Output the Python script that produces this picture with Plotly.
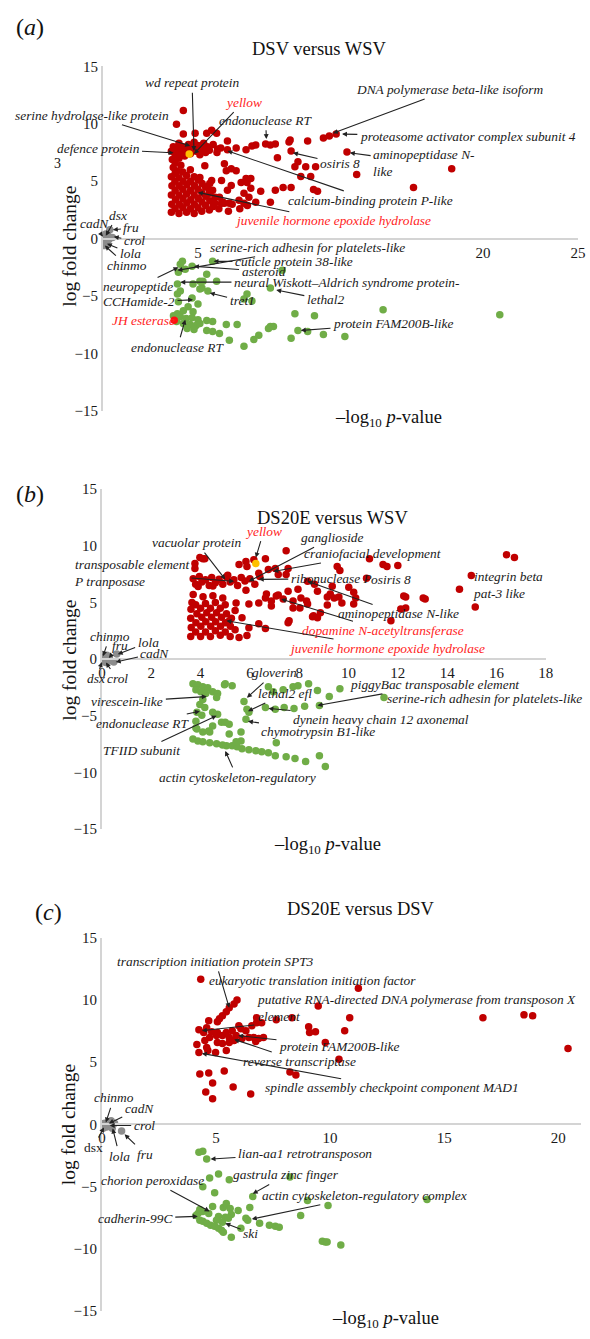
import plotly.graph_objects as go

# ---------------- data (x = -log10 p-value, y = log fold change) ----------------
a_red = [(4.23,11.16),(3.87,9.96),(4.23,9.10),(4.85,9.18),(5.46,9.18),(5.98,9.18),(5.72,9.44),(6.55,8.50),(6.55,7.73),(6.03,7.81),(7.01,7.90),(7.53,7.73),(7.84,8.07),(8.04,8.15),(8.56,8.24),(8.81,8.15),(9.07,8.24),(9.79,8.41),(9.85,8.58),(9.90,7.64),(10.77,8.50),(11.60,8.76),(11.91,8.93),(12.27,9.10),(12.84,7.55),(9.18,7.04),(10.26,6.70),(10.10,6.27),(10.67,6.27),(11.19,6.27),(10.41,5.41),(10.93,5.41),(13.35,5.58),(18.35,6.09),(16.34,4.46),(9.07,4.21),(9.48,4.46),(9.90,4.46),(11.08,4.29),(11.29,4.12),(8.81,3.18),(6.49,5.92),(7.01,5.92),(7.53,5.24),(7.78,5.24),(8.04,3.18),(8.30,4.12),(7.42,3.95),(6.75,4.64),(7.16,3.35),(6.39,3.09),(5.88,3.09),(6.24,5.06),(6.55,4.21),(5.72,5.06),(5.62,3.95),(5.36,6.35),(5.10,5.32),(6.39,6.52),(6.75,6.09),(7.27,4.89),(7.58,4.89),(7.78,4.38),(7.68,3.60),(7.42,3.09),(6.65,3.09),(6.24,3.09),(6.13,3.60),(5.77,4.21),(5.62,4.81),
 (3.6,7.6),(3.7,8.0),(3.8,7.3),(3.9,7.8),(4.0,8.3),(4.1,7.5),(4.2,8.0),(4.3,7.2),(4.4,7.7),(4.5,8.2),(4.6,7.4),(4.7,7.9),(4.8,8.4),(4.9,7.6),(5.0,8.1),(5.1,7.3),(5.2,7.8),(5.3,8.3),(5.4,7.5),(5.5,8.0),(5.6,7.7),(5.8,8.2),(6.0,7.5),(6.2,7.9),(3.65,6.9),(3.8,6.6),(4.0,7.0),(3.7,6.2),(3.9,5.9),(4.1,6.4),
 (3.6,2.3),(3.62,3.0),(3.6,3.8),(3.63,4.6),(3.6,5.4),(3.8,2.6),(3.82,3.4),(3.8,4.2),(3.79,5.0),(3.8,5.7),(4.0,2.2),(4.02,3.0),(4.0,3.8),(4.01,4.6),(4.0,5.3),(4.2,2.7),(4.21,3.5),(4.2,4.3),(4.22,5.0),(4.2,5.8),(4.4,2.3),(4.41,3.1),(4.4,3.9),(4.42,4.7),(4.4,5.5),(4.6,2.6),(4.62,3.4),(4.6,4.2),(4.61,5.0),(4.6,6.0),(4.8,2.2),(4.81,3.0),(4.8,3.8),(4.82,4.6),(4.8,5.4),(5.0,2.7),(5.02,3.5),(5.0,4.3),(5.01,5.1),(5.2,2.4),(5.21,3.2),(5.2,4.0),(5.22,4.8),(5.4,2.9),(5.41,3.7),(5.4,4.5),(5.6,2.5),(5.62,3.3),(5.6,4.2),(5.8,2.8),(5.9,3.6),(6.1,2.6),(6.3,3.2),(6.6,2.4),(6.8,3.0),(7.2,2.6),(7.6,2.9)]
a_green = [(5.77,-1.97),(4.07,-2.23),(4.33,-2.66),(4.69,-2.40),(3.97,-2.92),(5.46,-3.09),(5.10,-3.69),(3.92,-3.95),(4.07,-4.55),(4.74,-3.95),(5.10,-4.38),(5.52,-4.55),(4.69,-5.15),(5.00,-5.67),(3.97,-5.49),(3.92,-4.81),(4.48,-5.92),(4.74,-6.35),(4.23,-6.27),(3.92,-6.52),(3.71,-6.70),(4.07,-6.78),(4.38,-6.95),(4.69,-6.87),(5.0,-7.04),(3.87,-7.21),(4.23,-7.38),(4.59,-7.47),(4.90,-7.55),(4.43,-7.81),(4.79,-7.90),(5.10,-7.38),(5.46,-7.12),(5.77,-7.21),(5.46,-7.98),(5.77,-8.07),(6.13,-8.24),(6.49,-7.47),(7.06,-7.47),(6.65,-8.84),(7.42,-9.36),(7.94,-8.76),(8.20,-8.41),(7.58,-4.81),(7.84,-5.41),(8.81,-7.64),(8.97,-7.64),(9.90,-8.67),(10.10,-6.52),(5.98,-3.69),(4.18,-1.97),(5.26,-3.69),(5.21,-4.29),(8.81,-4.29),(7.42,-5.24),(11.13,-6.70),(14.74,-6.18),(10.26,-7.98),(10.77,-8.07),(8.71,-7.81),(9.43,-2.75),(11.60,-8.33),(12.73,-8.50),(20.88,-6.61)]
a_gray = [(0.1,0.1),(0.2,-0.3),(0.36,0.77),(0.1,-0.6),(0.25,0.3),(0.05,-0.2),(0.15,0.4),(0.3,-0.1),(0.5,0.1)]
a_yellow = [(4.54,7.38)]
a_jh = [(3.75,-7.1)]

b_red = [(4.09,8.87),(3.77,8.43),(3.77,8.0),(3.97,8.96),(4.17,8.87),(5.56,8.35),(5.84,8.61),(5.88,8.17),(6.16,8.78),(6.63,8.87),(7.47,9.57),(7.03,8.0),(6.36,7.57),(6.75,7.91),(7.15,7.48),(7.47,7.48),(7.55,8.0),(9.54,8.17),(9.65,7.83),(10.85,8.87),(11.40,8.35),(11.56,8.17),(12.0,8.26),(10.73,7.13),(16.41,9.22),(16.73,8.96),(14.98,7.39),(14.50,6.17),(15.14,4.61),(13.11,5.30),(12.32,5.48),(12.12,4.43),(11.72,3.39),(10.01,6.35),(10.21,5.91),(10.29,5.39),(10.21,4.87),(9.34,6.43),(9.42,5.39),(9.61,5.48),(9.14,5.48),(9.14,4.78),(8.74,3.65),(8.58,3.83),(8.86,4.09),(7.55,3.22),(7.95,6.17),(8.30,5.13),(7.75,5.13),(7.75,4.52),(8.03,4.52),(6.67,5.74),(7.07,5.57),(7.35,5.30),(7.55,6.0),(8.07,5.39),(8.34,6.87),(8.62,6.61),(8.74,6.0),(9.26,5.74),(9.73,4.96),(8.34,4.87),(7.59,3.39),(8.54,3.74),(5.96,4.87),(6.36,4.96),(6.87,4.70),(5.44,4.96),(5.17,3.39),(5.68,3.65),(5.96,2.78),(6.36,3.13),(6.63,2.70),(5.88,2.09),(5.56,1.91),(5.84,6.09),(6.63,5.39),(6.87,5.13),(7.15,5.65),(12.24,5.57),(13.03,5.39),(12.32,4.52),
 (3.7,7.1),(3.8,6.6),(3.95,7.3),(4.05,6.8),(4.2,7.0),(4.35,6.5),(4.45,7.2),(4.6,6.75),(4.75,7.05),(4.9,6.6),(5.05,7.25),(5.2,6.8),(5.35,7.0),(5.5,6.5),(5.65,7.2),(5.8,6.9),(6.0,7.1),(6.2,6.6),(6.4,7.3),(3.9,6.4),(4.5,6.45),(5.1,7.4),
 (3.6,2.0),(3.62,2.8),(3.6,3.6),(3.61,4.4),(3.65,5.0),(3.8,2.4),(3.81,3.2),(3.85,4.0),(3.8,4.8),(4.0,2.0),(4.01,2.9),(4.05,3.7),(4.0,4.5),(4.2,2.4),(4.21,3.3),(4.25,4.1),(4.2,4.9),(4.4,2.0),(4.41,2.9),(4.45,3.7),(4.4,4.5),(4.6,2.5),(4.61,3.3),(4.65,4.1),(4.6,5.0),(4.8,2.1),(4.81,2.9),(4.85,3.7),(4.8,4.5),(5.0,2.4),(5.01,3.2),(5.05,4.0),(5.0,4.8),(5.2,2.0),(5.21,2.9),(5.25,3.6),(5.4,2.6),(5.4,4.3),(3.7,5.7),(4.1,5.5),(4.5,5.6),(4.9,5.4)]
b_green = [(3.69,-2.17),(3.89,-2.26),(4.09,-2.43),(4.29,-2.52),(3.81,-2.70),(4.01,-2.87),(4.21,-3.04),(4.49,-2.87),(4.69,-3.04),(4.97,-2.26),(5.28,-2.35),(4.65,-3.39),(4.09,-3.57),(3.97,-4.0),(4.17,-4.26),(3.85,-4.70),(4.05,-4.96),(4.49,-4.70),(4.69,-4.87),(4.85,-5.57),(4.49,-5.91),(5.16,-5.74),(3.85,-6.17),(4.09,-6.43),(4.37,-6.43),(3.69,-7.04),(3.89,-7.22),(4.09,-7.30),(4.37,-7.39),(4.65,-7.48),(4.89,-7.57),(5.05,-7.65),(5.28,-7.65),(5.48,-7.74),(5.68,-7.91),(5.96,-8.0),(6.24,-8.09),(6.48,-8.17),(6.75,-8.26),(7.03,-8.52),(7.47,-8.61),(7.83,-8.78),(8.26,-9.04),(8.82,-8.52),(9.06,-9.48),(5.64,-7.22),(5.64,-6.43),(5.76,-3.74),(5.88,-4.43),(5.96,-4.70),(5.84,-5.30),(6.63,-4.26),(6.75,-2.43),(6.95,-2.87),(7.35,-2.70),(7.75,-2.43),(7.95,-2.35),(8.38,-2.17),(8.74,-2.78),(9.65,-2.61),(9.22,-3.30),(11.44,-3.39),(8.82,-4.09),(8.22,-4.17),(7.79,-4.35),(7.39,-4.26),(7.03,-4.43),(7.07,-7.39),(5.0,-5.57),(5.16,-6.61),(5.44,-7.30),(3.81,-5.48),(3.81,-6.09),(4.33,-6.35),(5.0,-2.17)]
b_gray = [(0.1,0.2),(0.15,-0.3),(0.6,0.45),(0.48,-0.25),(0.3,0.1),(0.05,-0.1),(0.2,0.35),(0.35,-0.15)]
b_yellow = [(6.24,8.43)]

c_red = [(4.33,11.67),(5.92,10.0),(5.79,9.68),(5.58,9.37),(5.45,9.05),(5.28,8.73),(5.15,8.49),(5.06,8.25),(4.68,8.33),(4.59,7.78),(4.25,7.62),(4.46,7.38),(4.81,7.46),(5.06,7.38),(5.45,7.38),(5.71,7.54),(6.09,7.70),(6.31,7.54),(6.57,7.94),(6.78,8.17),(6.78,8.57),(7.0,8.17),(4.72,6.98),(5.02,7.14),(5.28,7.14),(5.58,6.98),(5.88,7.14),(6.14,6.90),(6.44,6.98),(6.65,6.98),(6.87,6.90),(7.08,6.98),(4.51,6.75),(5.06,6.59),(5.58,6.59),(5.79,6.75),(5.28,6.51),(4.16,6.43),(4.59,6.19),(4.64,5.95),(4.98,5.79),(5.45,5.95),(4.25,5.79),(6.74,6.67),(4.29,4.05),(4.68,4.13),(5.36,4.29),(4.85,3.33),(4.55,2.62),(4.85,2.06),(5.75,3.02),(6.52,2.46),(8.24,4.21),(8.50,3.97),(11.24,10.95),(9.48,9.52),(8.33,8.57),(7.64,8.41),(10.86,8.57),(16.70,8.57),(18.50,8.81),(18.88,8.73),(9.06,7.86),(9.10,7.38),(9.36,7.46),(10.64,7.54),(9.79,6.59),(10.39,5.24),(20.43,6.11),(6.0,7.94)]
c_green = [(4.25,-2.22),(4.42,-2.14),(4.59,-2.78),(4.72,-4.29),(5.11,-3.97),(5.58,-4.44),(4.42,-5.0),(4.94,-5.48),(8.24,-4.21),(6.61,-5.79),(9.01,-6.11),(9.91,-6.51),(14.25,-6.03),(8.71,-7.30),(4.29,-6.83),(4.21,-7.14),(4.42,-6.98),(4.68,-7.14),(4.85,-6.59),(5.11,-7.38),(5.32,-6.67),(5.45,-6.35),(5.62,-6.75),(5.67,-7.22),(5.97,-6.90),(5.41,-7.46),(5.54,-7.54),(6.48,-6.67),(6.31,-7.54),(6.39,-7.70),(6.91,-7.94),(7.34,-8.10),(7.60,-8.17),(7.77,-8.25),(5.28,-7.86),(5.02,-7.70),(4.29,-7.70),(4.42,-7.78),(4.59,-7.94),(4.76,-8.10),(4.94,-8.17),(5.11,-8.33),(5.24,-8.49),(5.32,-8.65),(5.67,-9.05),(6.09,-8.33),(9.66,-9.37),(9.79,-9.44),(9.87,-9.44),(10.47,-9.68),(4.12,-7.30)]
c_gray = [(0.1,0.1),(0.2,-0.2),(0.4,0.3),(0.3,-0.1),(0.55,0.1),(0.05,-0.3),(0.86,-0.52),(0.45,-0.3)]

titles = ["DSV versus WSV", "DS20E versus WSV", "DS20E versus DSV"]
panel_letters = ["a", "b", "c"]
x_ranges = [[0, 25], [0, 18], [0, 21]]
x_tickvals = [[5, 20, 25], [0, 2, 4, 6, 8, 10, 12, 14, 16, 18], [0, 5, 10, 15, 20]]
y_tickvals = [-15, -10, -5, 0, 5, 10, 15]

# ---------------- styling ----------------
W, H = 590, 1339
SERIF = "Liberation Serif, Times New Roman, serif"
RED, GREEN, GRAY, YELLOW = "#C00000", "#70AD47", "#8C8C8C", "#FFC000"
LRED = "#FF2424"
TXT = "#1a1a1a"
AX = "#D4D4D4"
ANN_SIZE = 13.4
DOT = 7.5

def fx(px):
    return px / W

def fy(py):
    return 1 - py / H

# pixel layout of each panel: x0 (y-axis), x1 (axis end), y-top(15), y-bottom(-15)
panels = [
    dict(x0=101, x1=586, top=59, bot=408),
    dict(x0=100, x1=553, top=487, bot=831),
    dict(x0=100, x1=589, top=941, bot=1319),
]

fig = go.Figure()

def add_pts(pts, color, i, size=DOT):
    xs = [p[0] for p in pts]
    ys = [p[1] for p in pts]
    suf = "" if i == 0 else str(i + 1)
    fig.add_trace(go.Scatter(x=xs, y=ys, mode="markers", xaxis="x" + suf, yaxis="y" + suf,
                             marker=dict(color=color, size=size, line=dict(width=0)),
                             hoverinfo="skip", showlegend=False))

add_pts(a_red, RED, 0); add_pts(a_green, GREEN, 0); add_pts(a_gray, GRAY, 0)
add_pts(a_yellow, YELLOW, 0); add_pts(a_jh, "#FF1010", 0)
add_pts(b_red, RED, 1); add_pts(b_green, GREEN, 1); add_pts(b_gray, GRAY, 1); add_pts(b_yellow, YELLOW, 1)
add_pts(c_red, RED, 2); add_pts(c_green, GREEN, 2); add_pts(c_gray, GRAY, 2)

layout = dict(width=W, height=H, margin=dict(l=0, r=0, t=0, b=0),
              paper_bgcolor="white", plot_bgcolor="white", showlegend=False)
tickfont = dict(family=SERIF, size=15, color=TXT)
for i, p in enumerate(panels):
    suf = "" if i == 0 else str(i + 1)
    zero_py = (p["top"] + p["bot"]) / 2
    layout["xaxis" + suf] = dict(
        domain=[fx(p["x0"]), fx(p["x1"])], range=x_ranges[i], anchor="free", position=fy(zero_py),
        showgrid=False, zeroline=False, showline=True, linecolor=AX, linewidth=2,
        tickvals=x_tickvals[i], ticktext=[str(v) for v in x_tickvals[i]], ticks="",
        tickfont=tickfont, fixedrange=True)
    layout["yaxis" + suf] = dict(
        domain=[fy(p["bot"]), fy(p["top"])], range=[-15, 15], anchor="x" + suf,
        showgrid=False, zeroline=False, showline=True, linecolor=AX, linewidth=2,
        tickvals=y_tickvals, ticktext=[("\u2212" + str(-v) if v < 0 else str(v)) for v in y_tickvals],
        ticks="", tickfont=tickfont, fixedrange=True)
fig.update_layout(**layout)

anns = []

def lab(i, text, tx, ty, hx=None, hy=None, color=TXT, italic=True, align="center", size=ANN_SIZE):
    suf = "" if i == 0 else str(i + 1)
    xr, yr = "x" + suf, "y" + suf
    t = "<i>" + text + "</i>" if italic else text
    font = dict(family=SERIF, size=size, color=color)
    if hx is None:
        anns.append(dict(xref=xr, yref=yr, x=tx, y=ty, text=t, showarrow=False, font=font, align=align))
    else:
        anns.append(dict(xref=xr, yref=yr, x=hx, y=hy, ax=tx, ay=ty, axref=xr, ayref=yr, text=t,
                         showarrow=True, arrowhead=2, arrowsize=0.9, arrowwidth=1.1, arrowcolor="#222",
                         font=font, align=align, standoff=0, startstandoff=1))

# panel a
lab(0, "wd repeat protein", 4.69, 13.56, 4.79, 7.64)
lab(0, "yellow", 7.37, 11.85, 4.79, 7.38, color=LRED)
lab(0, "serine hydrolase-like protein", -0.57, 10.73, 4.59, 8.07)
lab(0, "defence protein", -0.26, 7.81, 3.71, 7.47)
lab(0, "endonuclease RT", 8.56, 10.3, 8.6, 8.67)
lab(0, "DNA polymerase beta-like isoform", 18.25, 12.96, 12.1, 9.18)
lab(0, "proteasome activator complex subunit 4", 19.2, 8.93, 12.58, 9.10)
lab(0, "aminopeptidase N-<br>like", 16.9, 6.61, 12.99, 7.47, align="left")
lab(0, "osiris 8", 12.47, 6.52, 10.0, 7.47)
lab(0, "calcium-binding protein P-like", 14.1, 3.35, 6.55, 7.64)
lab(0, "juvenile hormone epoxide hydrolase", 12.1, 1.55, 5.0, 4.03, color=LRED)
lab(0, "dsx", 0.77, 2.06, 0.15, 0.26)
lab(0, "cadN", -0.46, 1.29, 0.0, 0.17)
lab(0, "fru", 1.5, 0.94, 0.52, 0.77)
lab(0, "crol", 1.65, -0.17, 0.57, 0.17)
lab(0, "lola", 1.44, -1.29, 0.21, -0.43)
lab(0, "chinmo", 1.24, -2.32, 0.1, -0.6)
lab(0, "serine-rich adhesin for platelets-like", 10.77, -0.77, 3.92, -2.75)
lab(0, "cuticle protein 38-like", 10.05, -1.97, 5.82, -1.97)
lab(0, "asteroid", 8.45, -2.83, 4.79, -2.40)
lab(0, "neural Wiskott\u2013Aldrich syndrome protein-", 12.84, -3.78, 4.07, -3.78)
lab(0, "lethal2", 11.7, -5.32, 9.12, -4.46)
lab(0, "tret1", 7.32, -5.41, 5.62, -4.72)
lab(0, "neuropeptide", 1.86, -4.2, 3.97, -2.49)
lab(0, "CCHamide-2", 1.9, -5.5, 4.74, -5.32)
lab(0, "JH esterase", 2.11, -7.12, color=LRED)
lab(0, "endonuclease RT", 3.92, -9.44, 4.33, -7.04)
lab(0, "protein FAM200B-like", 15.26, -7.38, 10.41, -7.98)

# panel b
lab(1, "yellow", 6.56, 11.3, 6.24, 8.96, color=LRED)
lab(1, "vacuolar protein", 3.85, 10.26, 5.0, 7.04)
lab(1, "transposable element<br>P tranposase", 1.2, 7.57, 5.36, 6.87, align="left")
lab(1, "ganglioside", 9.34, 10.7, 5.96, 6.87)
lab(1, "craniofacial development", 10.97, 9.3, 6.95, 7.74)
lab(1, "ribonuclease P", 9.3, 7.1, 6.36, 7.04)
lab(1, "osiris 8", 11.72, 7.04)
lab(1, "aminopeptidase N-like", 12.04, 4.0, 8.34, 6.87)
lab(1, "dopamine N-acetyltransferase", 11.4, 2.52, 7.27, 5.3, color=LRED)
lab(1, "juvenile hormone epoxide hydrolase", 11.56, 0.96, 5.05, 3.39, color=LRED)
lab(1, "integrin beta<br>pat-3 like", 16.45, 6.52, align="left")
lab(1, "chinmo", 0.32, 2.0, 0.04, 0.26)
lab(1, "fru", 0.72, 1.22, 0.28, 0.1)
lab(1, "lola", 1.87, 1.48, 0.64, 0.43)
lab(1, "cadN", 2.15, 0.52, 0.56, -0.26)
lab(1, "dsx", -0.24, -1.74, 0.0, -0.26)
lab(1, "crol", 0.62, -1.74, 0.16, -0.3)
lab(1, "virescein-like", 1.03, -3.74, 4.25, -3.3)
lab(1, "endonuclease RT", 1.63, -5.65, 3.97, -4.6)
lab(1, "TFIID subunit", 1.59, -8.1, 4.65, -5.0)
lab(1, "actin cytoskeleton-regulatory", 5.48, -10.43, 5.0, -8.1)
lab(1, "gloverin", 6.99, -1.22, 5.88, -3.4)
lab(1, "lethal2 efl", 7.43, -3.04, 5.92, -4.6)
lab(1, "dynein heavy chain 12 axonemal", 11.32, -5.3, 6.75, -4.35)
lab(1, "chymotrypsin B1-like", 8.78, -6.43, 5.92, -5.48)
lab(1, "piggyBac transposable element", 13.47, -2.26, 8.74, -4.09)
lab(1, "serine-rich adhesin for platelets-like", 15.53, -3.48)

# panel c
lab(2, "transcription initiation protein SPT3", 4.98, 13.1, 5.58, 9.37)
lab(2, "eukaryotic translation initiation factor", 9.23, 11.6)
lab(2, "putative RNA-directed DNA polymerase from transposon X<br>element", 13.78, 9.37, 4.38, 7.54, align="left")
lab(2, "protein FAM200B-like", 10.39, 6.27, 5.97, 7.14)
lab(2, "reverse transcriptase", 8.67, 5.08, 5.8, 6.83)
lab(2, "spindle assembly checkpoint component MAD1", 12.7, 2.94, 4.38, 5.71)
lab(2, "chinmo", 0.52, 2.14, 0.17, 0.16)
lab(2, "cadN", 1.63, 1.27, 0.3, 0.08)
lab(2, "crol", 1.85, -0.08, 0.34, -0.08)
lab(2, "dsx", -0.39, -1.83, 0.09, -0.24, italic=False)
lab(2, "lola", 0.77, -2.54, 0.47, -0.32)
lab(2, "fru", 1.89, -2.38, 0.99, -0.79)
lab(2, "lian-aa1 retrotransposon", 8.9, -2.3, 4.76, -2.78)
lab(2, "gastrula zinc finger", 8.07, -4.05, 6.61, -5.56)
lab(2, "actin cytoskeleton-regulatory complex", 11.5, -5.71, 6.57, -7.6)
lab(2, "chorion peroxidase", 2.23, -4.52, 4.72, -6.98)
lab(2, "cadherin-99C", 1.46, -7.54, 4.2, -7.38)
lab(2, "ski", 6.52, -8.73, 5.41, -7.94)

# paper-level texts
def ptext(text, px, py, size, angle=0):
    anns.append(dict(xref="paper", yref="paper", x=fx(px), y=fy(py), text=text, showarrow=False,
                     textangle=angle, xanchor="center", yanchor="middle",
                     font=dict(family=SERIF, size=size, color="#111")))

letter_pos = [(27, 19), (27, 492), (45, 915)]
title_pos = [(322, 42), (335, 516), (364, 912)]
xt_pos = [(392, 415), (330, 848), (389, 1327)]
yt_pos = [(66, 241), (66, 660), (66, 1130)]
for i in range(3):
    ptext("(<i>" + panel_letters[i] + "</i>)", letter_pos[i][0], letter_pos[i][1], 24)
    ptext(titles[i], title_pos[i][0], title_pos[i][1], 18.5)
    ptext("\u2013log<sub>10</sub> <i>p</i>-value", xt_pos[i][0], xt_pos[i][1], 18.5)
    ptext("log fold change", yt_pos[i][0], yt_pos[i][1], 19.5, angle=-90)
ptext("3", 55, 157, 14)

fig.update_layout(annotations=anns)
fig.write_html("out.html")
